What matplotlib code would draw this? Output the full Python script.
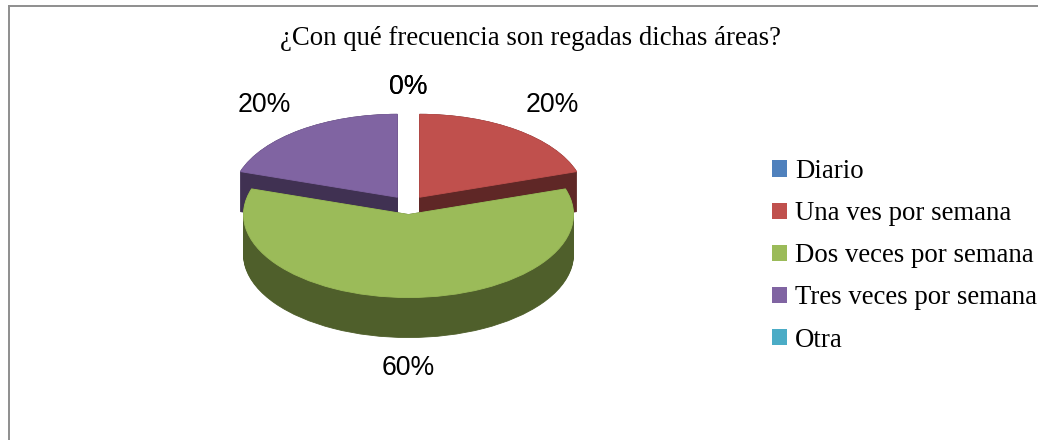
import matplotlib
matplotlib.use("Agg")
import matplotlib.pyplot as plt
from matplotlib.lines import Line2D
import numpy as np

W, H = 1038, 440

title = "¿Con qué frecuencia son regadas dichas áreas?"
categories = ["Diario", "Una ves por semana", "Dos veces por semana",
              "Tres veces por semana", "Otra"]
values = [0, 20, 60, 20, 0]

top_colors = ["#4F81BD", "#C0504D", "#9BBB59", "#8064A2", "#4BACC6"]
side_colors = ["#2A4565", "#5F2726", "#4F5F2B", "#403152", "#256070"]

# pie geometry in pixels, the pie is a squashed circle
CX, CY = 408.5, 205
RX, RY = 165, 83
DEPTH = 40 / RY
EXPLODE = [0.115] * 5

fig = plt.figure(figsize=(W / 100, H / 100), dpi=100)
fig.patch.set_facecolor("white")

# axes placed so one data unit is RX px across and RY px down
xr, yr = 2.0, 2.2
ax = fig.add_axes([(CX - xr * RX) / W, 1 - (CY + yr * RY) / H,
                   2 * xr * RX / W, 2 * yr * RY / H])


def draw_slice(i, d, colors):
    wedges, _ = ax.pie(values, colors=colors, explode=EXPLODE, startangle=90,
                       counterclock=False, center=(0, -d), radius=1,
                       wedgeprops={"linewidth": 0})
    for j, w in enumerate(wedges):
        w.set_visible(j == i)
    # thin edge in the slice colour hides the wall showing through the antialiasing
    wedges[i].set_edgecolor(colors[i])
    wedges[i].set_linewidth(0.6)


# back slices before the big front one, walls stacked under each top
for i in [1, 3, 2]:
    for d in np.linspace(DEPTH, 0, 41):
        draw_slice(i, d, side_colors)
    draw_slice(i, 0, top_colors)

# percentage labels, one per category, the two 0% land on the same spot
wedges, _, pcts = ax.pie(values, colors=top_colors, explode=EXPLODE, startangle=90,
                         counterclock=False, center=(0, 0), radius=1,
                         autopct="%1.0f%%", pctdistance=1.37,
                         textprops={"family": "Liberation Sans", "fontsize": 19.2,
                                    "color": "black"},
                         wedgeprops={"linewidth": 0})
for w in wedges:
    w.set_visible(False)
for t, v in zip(pcts, values):
    x, y = t.get_position()
    if v == 60:
        t.set_position((x, y - DEPTH))
    elif v == 0:
        t.set_position((x, y - 0.06))

ax.set_aspect("auto")
ax.set_xlim(-xr, xr)
ax.set_ylim(-yr, yr)
ax.axis("off")

fig.text(530 / W, 1 - 38 / H, title, family="Liberation Serif", fontsize=19.3,
         ha="center", va="center", color="black")

handles = [plt.Rectangle((0, 0), 1, 1, facecolor=c, edgecolor="none") for c in top_colors]
fig.legend(handles, categories, loc="upper left",
           bbox_to_anchor=(772 / W, 1 - 159 / H), borderaxespad=0, borderpad=0,
           frameon=False, handlelength=0.56, handleheight=0.56, handletextpad=0.3,
           labelspacing=0.64,
           prop={"family": "Liberation Serif", "size": 19.3})

# frame of the chart, only left and top survive in the crop
fig.add_artist(Line2D([8.5 / W, 8.5 / W], [0, 1 - 6.5 / H], color="#8E8E8E", lw=1.4))
fig.add_artist(Line2D([8.5 / W, 1], [1 - 6.5 / H, 1 - 6.5 / H], color="#8E8E8E", lw=1.4))

fig.savefig("out.png", dpi=100)
